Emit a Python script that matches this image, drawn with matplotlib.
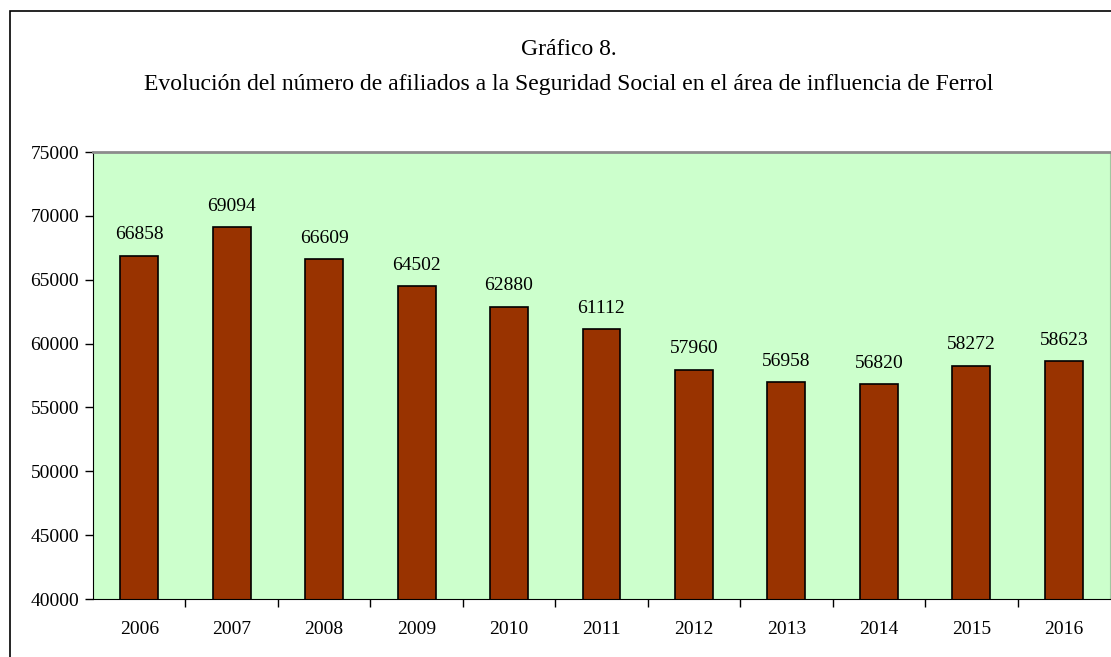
import matplotlib
matplotlib.use("Agg")
import matplotlib.pyplot as plt
from matplotlib.patches import Rectangle

years = ["2006", "2007", "2008", "2009", "2010", "2011", "2012", "2013", "2014", "2015", "2016"]
afiliados = [66858, 69094, 66609, 64502, 62880, 61112, 57960, 56958, 56820, 58272, 58623]
yticks = [40000, 45000, 50000, 55000, 60000, 65000, 70000, 75000]

plt.rcParams["font.family"] = ["Liberation Serif", "DejaVu Serif"]

fig = plt.figure(figsize=(11.11, 6.57), dpi=100)
ax = fig.add_axes([93 / 1111, 1 - 599 / 657, 1017 / 1111, 447 / 657])
ax.set_facecolor("#ccffcc")

x = list(range(len(years)))
ax.bar(x, afiliados, width=0.41, color="#993300", edgecolor="black", linewidth=1.2, zorder=2)
for xi, v in zip(x, afiliados):
    ax.annotate(f"{v}", (xi, v), xytext=(0, 9), textcoords="offset points",
                ha="center", va="bottom", fontsize=14)

ax.set_xlim(-0.5, len(years) - 0.5)
ax.set_ylim(40000, 75000)
ax.set_yticks(yticks)
ax.set_yticklabels([str(t) for t in yticks], fontsize=14)
ax.set_xticks(x)
ax.set_xticklabels(years, fontsize=14)
ax.tick_params(axis="x", which="major", length=0, pad=16)
ax.set_xticks([i + 0.5 for i in x[:-1]], minor=True)
ax.tick_params(axis="x", which="minor", length=6, direction="out", width=1)
ax.tick_params(axis="y", length=6, direction="out", width=1, pad=4)

ax.spines["left"].set_color("black")
ax.spines["bottom"].set_color("black")
ax.spines["top"].set_color("#8c8c8c")
ax.spines["top"].set_linewidth(2)
ax.spines["right"].set_color("#a0c8a0")

fig.text(569 / 1111, 1 - 55 / 657, "Gráfico 8.", ha="center", va="baseline", fontsize=17)
fig.text(569 / 1111, 1 - 90 / 657,
         "Evolución del número de afiliados a la Seguridad Social en el área de influencia de Ferrol",
         ha="center", va="baseline", fontsize=17)

fig.patches.append(Rectangle((10 / 1111, -0.1), 1.2, 1.1 - 11 / 657, transform=fig.transFigure,
                             fill=False, edgecolor="black", linewidth=1.2))

fig.savefig("out.png", dpi=100)
